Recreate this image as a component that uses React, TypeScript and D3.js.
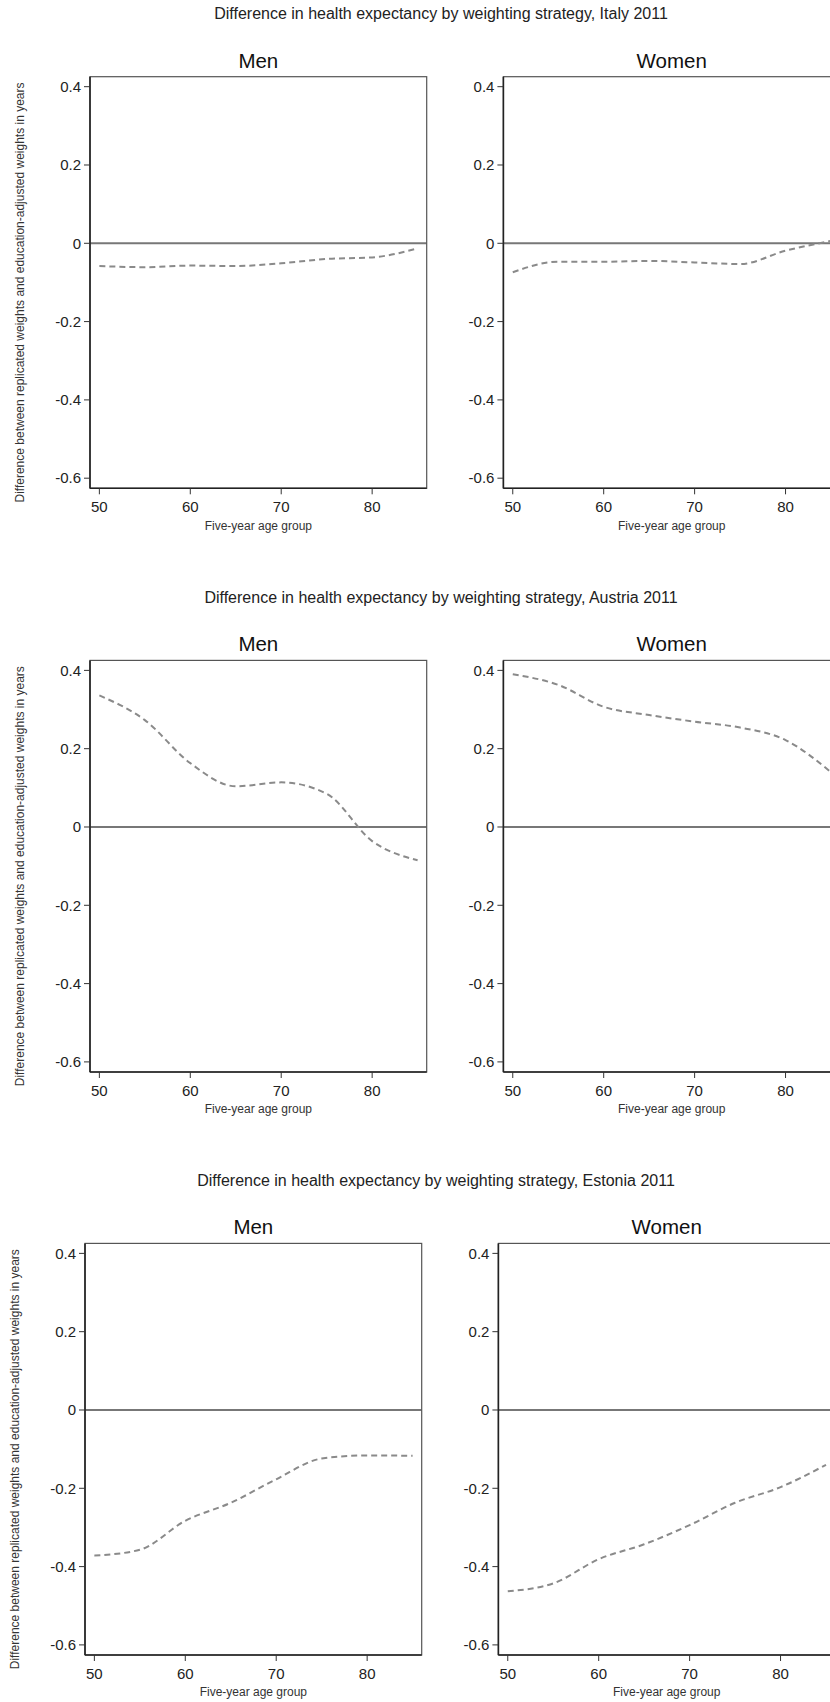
import React, { useEffect, useRef } from 'react';
import * as d3 from 'd3';

// five-year age groups (x axis)
const ages = [50, 55, 60, 65, 70, 75, 80, 85];
const xTicks = [50, 60, 70, 80];
const yTicks = [0.4, 0.2, 0, -0.2, -0.4, -0.6];

const countries = ['Italy', 'Austria', 'Estonia'];

// difference between replicated and education-adjusted weights, in years
const italyMen = [-0.058, -0.061, -0.057, -0.058, -0.051, -0.040, -0.036, -0.013];
const italyWomen = [-0.074, -0.047, -0.047, -0.045, -0.049, -0.053, -0.019, 0.006];
const austriaMen = [0.336, 0.273, 0.163, 0.104, 0.114, 0.085, -0.036, -0.085];
const austriaWomen = [0.390, 0.363, 0.307, 0.286, 0.269, 0.254, 0.222, 0.140];
const estoniaMen = [-0.372, -0.357, -0.283, -0.237, -0.177, -0.124, -0.116, -0.117];
const estoniaWomen = [-0.463, -0.443, -0.381, -0.343, -0.294, -0.237, -0.197, -0.140];

const menSeries = [italyMen, austriaMen, estoniaMen];
const womenSeries = [italyWomen, austriaWomen, estoniaWomen];

const W = 830;
const H = 1702;
const FONT = 'Liberation Sans, Arial, Helvetica, sans-serif';

function App() {
  const svgRef = useRef(null);

  useEffect(() => {
    const svg = d3.select(svgRef.current);
    svg.selectAll('*').remove();

    // panel geometry
    var panelW = 336.7;
    var panelH = 411.6;
    var panelTop = 76.7;
    var panelLefts = [90, 503.4];
    var blockDy = [0, 583.7, 1166.7];
    var blockDx = [0, 0, -5];

    var x = d3.scaleLinear().domain([48.97, 86]).range([0, panelW]);
    var y = d3.scaleLinear().domain([-0.6258, 0.4255]).range([panelH, 0]);

    var line = d3.line()
      .x(function (d, i) { return x(ages[i]); })
      .y(function (d) { return y(d); })
      .curve(d3.curveMonotoneX);

    countries.forEach(function (country, c) {
      var dy = blockDy[c];
      var dx = blockDx[c];

      // main title
      svg.append('text')
        .attr('x', 441 + dx)
        .attr('y', 19.3 + dy)
        .attr('text-anchor', 'middle')
        .style('font-family', FONT)
        .style('font-size', '16px')
        .attr('fill', '#222')
        .text('Difference in health expectancy by weighting strategy, ' + country + ' 2011');

      // y axis label
      svg.append('text')
        .attr('transform', 'translate(' + (24 + dx) + ',' + (292.5 + dy) + ') rotate(-90)')
        .attr('text-anchor', 'middle')
        .style('font-family', FONT)
        .style('font-size', '12px')
        .attr('fill', '#333')
        .text('Difference between replicated weights and education-adjusted weights in years');

      ['Men', 'Women'].forEach(function (sex, s) {
        var data = s === 0 ? menSeries[c] : womenSeries[c];
        var g = svg.append('g')
          .attr('transform', 'translate(' + (panelLefts[s] + dx) + ',' + (panelTop + dy) + ')');

        // panel subtitle
        g.append('text')
          .attr('x', panelW / 2)
          .attr('y', -9)
          .attr('text-anchor', 'middle')
          .style('font-family', FONT)
          .style('font-size', '20.5px')
          .attr('fill', '#111')
          .text(sex);

        // zero reference line
        g.append('line')
          .attr('x1', 0).attr('x2', panelW)
          .attr('y1', y(0)).attr('y2', y(0))
          .attr('stroke', '#777')
          .attr('stroke-width', 2);

        // data line
        g.append('path')
          .datum(data)
          .attr('d', line)
          .attr('fill', 'none')
          .attr('stroke', '#8a8a8a')
          .attr('stroke-width', 2)
          .attr('stroke-dasharray', '6,4');

        // frame
        g.append('rect')
          .attr('x', 0).attr('y', 0)
          .attr('width', panelW).attr('height', panelH)
          .attr('fill', 'none')
          .attr('stroke', '#555')
          .attr('stroke-width', 1.2);
        g.append('line')
          .attr('x1', 0).attr('x2', 0).attr('y1', 0).attr('y2', panelH)
          .attr('stroke', '#222').attr('stroke-width', 1.6);
        g.append('line')
          .attr('x1', 0).attr('x2', panelW).attr('y1', panelH).attr('y2', panelH)
          .attr('stroke', '#222').attr('stroke-width', 1.6);

        // y ticks
        var yAxis = g.append('g');
        yTicks.forEach(function (t) {
          yAxis.append('line')
            .attr('x1', -6).attr('x2', 0)
            .attr('y1', y(t)).attr('y2', y(t))
            .attr('stroke', '#333').attr('stroke-width', 1);
          yAxis.append('text')
            .attr('x', -9)
            .attr('y', y(t) + 5.3)
            .attr('text-anchor', 'end')
            .style('font-family', FONT)
            .style('font-size', '15px')
            .attr('fill', '#222')
            .text(t === 0 ? '0' : t.toFixed(1));
        });

        // x ticks
        var xAxis = g.append('g');
        xTicks.forEach(function (t) {
          xAxis.append('line')
            .attr('x1', x(t)).attr('x2', x(t))
            .attr('y1', panelH).attr('y2', panelH + 6)
            .attr('stroke', '#333').attr('stroke-width', 1);
          xAxis.append('text')
            .attr('x', x(t))
            .attr('y', panelH + 23.6)
            .attr('text-anchor', 'middle')
            .style('font-family', FONT)
            .style('font-size', '15px')
            .attr('fill', '#222')
            .text(t);
        });

        g.append('text')
          .attr('x', panelW / 2)
          .attr('y', panelH + 41.5)
          .attr('text-anchor', 'middle')
          .style('font-family', FONT)
          .style('font-size', '12px')
          .attr('fill', '#333')
          .text('Five-year age group');
      });
    });
  }, []);

  return (
    <svg
      ref={svgRef}
      width={W}
      height={H}
      style={{ position: 'absolute', left: 0, top: 0, background: '#fff' }}
    />
  );
}

export default App;
